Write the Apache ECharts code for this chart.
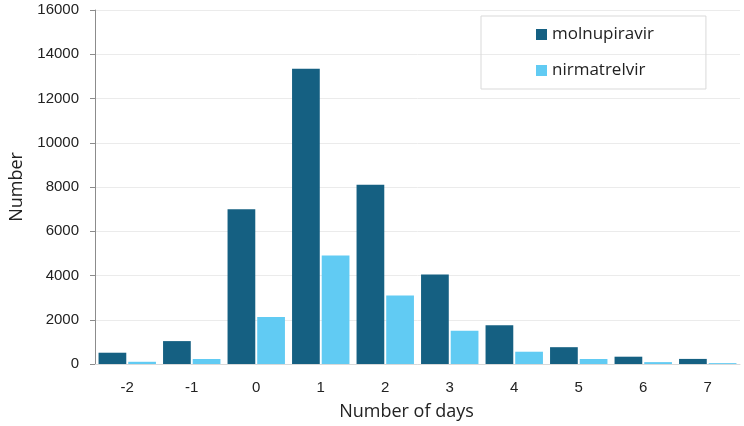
<!DOCTYPE html>
<html>
<head>
<meta charset="utf-8">
<script src="https://cdn.jsdelivr.net/npm/echarts@6/dist/echarts.min.js"></script>
<style>html,body{margin:0;padding:0;background:#fff}#c{width:744px;height:426px}</style>
</head>
<body>
<div id="c"></div>
<script>
const categories = ['-2','-1','0','1','2','3','4','5','6','7'];
const molnupiravir = [510, 1035, 7000, 13350, 8100, 4050, 1750, 760, 330, 230];
const nirmatrelvir = [100, 225, 2120, 4900, 3100, 1500, 555, 225, 85, 40];
const yTicks = [0, 2000, 4000, 6000, 8000, 10000, 12000, 14000, 16000];

const chart = echarts.init(document.getElementById('c'), null, {renderer: 'canvas'});
chart.setOption({
  animation: false,
  backgroundColor: '#ffffff',
  grid: {left: 90, right: 4, top: 10, bottom: 61, containLabel: false},
  legend: {
    data: ['molnupiravir', 'nirmatrelvir'],
    orient: 'vertical',
    left: 481, top: 16, width: 227,
    padding: [10, 52, 10, 55],
    itemGap: 19,
    itemWidth: 11, itemHeight: 11,
    icon: 'rect',
    borderColor: '#d9d9d9', borderWidth: 1,
    textStyle: {fontFamily: 'Open Sans', fontSize: 17, color: '#222'}
  },
  xAxis: {
    type: 'category',
    data: categories,
    name: 'Number of days',
    nameLocation: 'middle',
    nameGap: 39,
    nameTextStyle: {fontFamily: 'Open Sans', fontSize: 18, color: '#222', padding: [0, 22, 0, 0]},
    axisLine: {lineStyle: {color: '#d9d9d9'}},
    axisTick: {show: false},
    axisLabel: {fontFamily: 'Liberation Sans', fontSize: 15, color: '#222', margin: 16,
                formatter: v => v}
  },
  yAxis: {
    type: 'value',
    min: yTicks[0], max: yTicks[yTicks.length - 1], interval: 2000,
    name: 'Number',
    nameLocation: 'middle',
    nameGap: 69,
    nameTextStyle: {fontFamily: 'Open Sans', fontSize: 18, color: '#222'},
    axisLine: {show: true, lineStyle: {color: '#8c8c8c'}},
    axisTick: {show: true, length: 5, lineStyle: {color: '#8c8c8c'}},
    axisLabel: {fontFamily: 'Liberation Sans', fontSize: 15, color: '#222', margin: 16,
                formatter: v => String(v)},
    splitLine: {lineStyle: {color: '#ebebeb'}}
  },
  series: [
    {name: 'molnupiravir', type: 'bar', data: molnupiravir,
     itemStyle: {color: '#156082'}, barGap: '7%', barCategoryGap: '11%'},
    {name: 'nirmatrelvir', type: 'bar', data: nirmatrelvir,
     itemStyle: {color: '#61CBF3'}}
  ]
});
</script>
</body>
</html>
